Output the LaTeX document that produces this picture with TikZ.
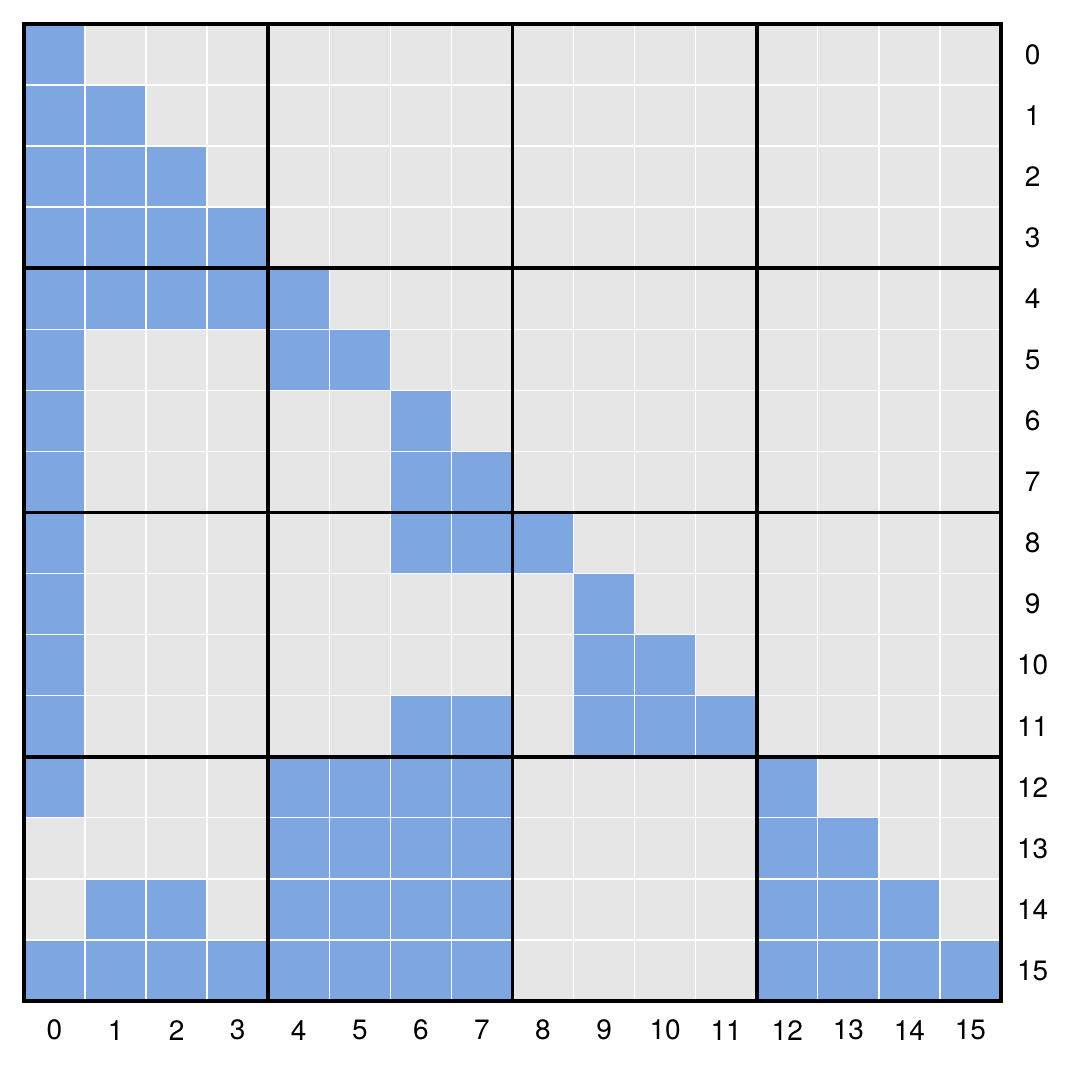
\documentclass[tikz,border=0pt]{standalone}
\usepackage{fontspec}
\setmainfont{TeX Gyre Heros}
\usepackage{xcolor}
\definecolor{CellBlue}{RGB}{126,166,224}
\definecolor{CellGray}{RGB}{230,230,230}

\begin{document}
\begin{tikzpicture}[
  x=30.53pt, y=-30.53pt,
  cell/.style={fill=CellBlue},
  thin grid/.style={draw=white, line width=0.7pt},
  block/.style={draw=black, line width=1.9pt},
  idx/.style={font=\fontsize{14}{16}\selectfont, inner sep=0pt}
]
\useasboundingbox (-0.393,-0.393) rectangle (17.294,17.311);
% background cells
\fill[CellGray] (0,0) rectangle (16,16);
% blue cells, row / columns
\foreach \r/\cs in {0/{0},1/{0,1},2/{0,1,2},3/{0,1,2,3},4/{0,1,2,3,4},
  5/{0,4,5},6/{0,6},7/{0,6,7},8/{0,6,7,8},9/{0,9},10/{0,9,10},
  11/{0,6,7,9,10,11},12/{0,4,5,6,7,12},13/{4,5,6,7,12,13},
  14/{1,2,4,5,6,7,12,13,14},15/{0,1,2,3,4,5,6,7,12,13,14,15}}
  \foreach \c in \cs
    \fill[cell] (\c,\r) rectangle ++(1,1);
% thin white lines
\foreach \k in {1,...,15}{
  \draw[thin grid] (\k,0) -- (\k,16);
  \draw[thin grid] (0,\k) -- (16,\k);
}
% block lines
\foreach \k in {4,8,12}{
  \draw[block] (\k,0) -- (\k,16);
  \draw[block] (0,\k) -- (16,\k);
}
\draw[block] (0,0) rectangle (16,16);
% indices
\foreach \i in {0,...,15}{
  \node[idx] (row\i) at (16.52,\i+0.5) {\i};
  \node[idx] (col\i) at (\i+0.5,16.48) {\i};
}
\end{tikzpicture}
\end{document}
